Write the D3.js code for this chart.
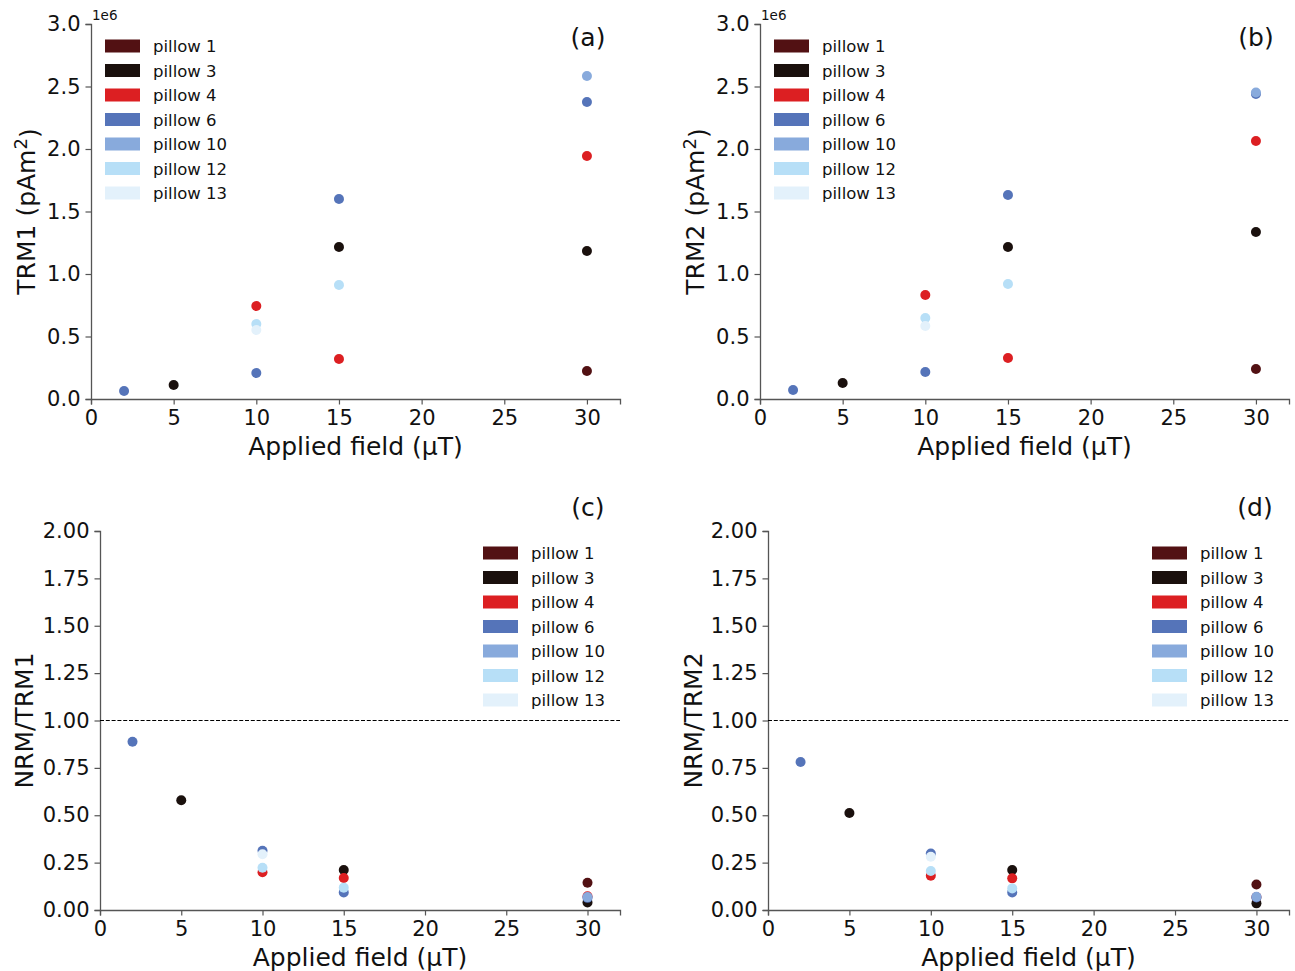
<!DOCTYPE html>
<html>
<head>
<meta charset="utf-8">
<script src="https://cdn.jsdelivr.net/npm/d3@7"></script>
<style>
  html, body { margin: 0; padding: 0; background: #fff; }
  svg { display: block; font-family: "DejaVu Sans", sans-serif; }
</style>
</head>
<body>
<svg id="chart" width="1295" height="971"></svg>
<script>
// ---------------- data ----------------
const pillows = ["pillow 1", "pillow 3", "pillow 4", "pillow 6", "pillow 10", "pillow 12", "pillow 13"];
const pillowColors = ["#521113", "#1a100d", "#dc1f22", "#5574b9", "#88aadc", "#b7dff7", "#e3f1fb"];
const xTicks = [0, 5, 10, 15, 20, 25, 30];
const trmTicks = [0, 0.5, 1.0, 1.5, 2.0, 2.5, 3.0];
const ratioTicks = [0, 0.25, 0.5, 0.75, 1.0, 1.25, 1.5, 1.75, 2.0];

// [applied field (µT), value] per pillow, same order as `pillows`
// TRM1 in units of 1e6 pAm^2
const trm1 = [
  [[30, 0.224]],
  [[5, 0.112], [15, 1.216], [30, 1.184]],
  [[10, 0.744], [15, 0.320], [30, 1.944]],
  [[2, 0.064], [10, 0.208], [15, 1.600], [30, 2.376]],
  [[30, 2.584]],
  [[10, 0.600], [15, 0.912]],
  [[10, 0.552]]
];
// TRM2 in units of 1e6 pAm^2
const trm2 = [
  [[30, 0.240]],
  [[5, 0.128], [15, 1.216], [30, 1.336]],
  [[10, 0.832], [15, 0.328], [30, 2.064]],
  [[2, 0.072], [10, 0.216], [15, 1.632], [30, 2.440]],
  [[30, 2.452]],
  [[10, 0.648], [15, 0.920]],
  [[10, 0.584]]
];
// NRM/TRM1
const ratio1 = [
  [[30, 0.144]],
  [[5, 0.579], [15, 0.211], [30, 0.040]],
  [[10, 0.199], [15, 0.169], [30, 0.072]],
  [[2, 0.888], [10, 0.313], [15, 0.093], [30, 0.064]],
  [[30, 0.068]],
  [[10, 0.223], [15, 0.118]],
  [[10, 0.294]]
];
// NRM/TRM2
const ratio2 = [
  [[30, 0.135]],
  [[5, 0.512], [15, 0.211], [30, 0.035]],
  [[10, 0.181], [15, 0.167], [30, 0.068]],
  [[2, 0.781], [10, 0.298], [15, 0.093], [30, 0.066]],
  [[30, 0.070]],
  [[10, 0.206], [15, 0.114]],
  [[10, 0.281]]
];

// ---------------- drawing ----------------
const svg = d3.select("#chart");
const SPINE = "#555555";

function drawPanel(cfg) {
  const x = d3.scaleLinear().domain([0, 32]).range([cfg.left, cfg.right]);
  const y = d3.scaleLinear().domain(cfg.yDomain).range([cfg.bottom, cfg.top]);
  const g = svg.append("g");

  // axes
  const xAxis = d3.axisBottom(x).tickValues(xTicks).tickSize(5.5).tickPadding(4).tickFormat(d3.format("d"));
  const yAxis = d3.axisLeft(y).tickValues(cfg.yTicks).tickSize(5.5).tickPadding(5).tickFormat(d3.format(cfg.fmt));
  const gx = g.append("g").attr("transform", `translate(0,${cfg.bottom})`).call(xAxis);
  const gy = g.append("g").attr("transform", `translate(${cfg.left},0)`).call(yAxis);
  [gx, gy].forEach(a => {
    a.select(".domain").attr("stroke", SPINE).attr("stroke-width", 1.3);
    a.selectAll(".tick line").attr("stroke", SPINE).attr("stroke-width", 1.2);
    a.selectAll(".tick text").attr("fill", "#111").style("font-size", "21px")
      .style("font-family", "'DejaVu Sans', sans-serif");
  });
  gx.selectAll(".tick text").attr("dy", "0.71em").attr("y", 11);

  // reference line
  if (cfg.refLine !== undefined) {
    g.append("line")
      .attr("x1", x(0)).attr("x2", x(32))
      .attr("y1", y(cfg.refLine)).attr("y2", y(cfg.refLine))
      .attr("stroke", "#000").attr("stroke-width", 1.1)
      .attr("stroke-dasharray", "4,1.8");
  }

  // points (in series order, later on top)
  cfg.data.forEach((series, i) => {
    g.selectAll(null).data(series).enter().append("circle")
      .attr("cx", d => x(d[0])).attr("cy", d => y(d[1]))
      .attr("r", 5).attr("fill", pillowColors[i]);
  });

  // offset text
  if (cfg.offset) {
    g.append("text").attr("x", cfg.left + 1).attr("y", cfg.top - 4)
      .style("font-size", "13.5px").attr("fill", "#111").text(cfg.offset);
  }

  // labels
  g.append("text").attr("x", (cfg.left + cfg.right) / 2).attr("y", cfg.bottom + 56)
    .attr("text-anchor", "middle").style("font-size", "25px").attr("fill", "#111")
    .text("Applied field (μT)");

  const yl = g.append("text")
    .attr("transform", `translate(${cfg.ylabelX},${(cfg.top + cfg.bottom) / 2}) rotate(-90)`)
    .attr("text-anchor", "middle").style("font-size", "25px").attr("fill", "#111");
  yl.append("tspan").text(cfg.ylabel);
  if (cfg.ylabelSup) {
    yl.append("tspan").attr("dy", "-0.45em").style("font-size", "18px").text(cfg.ylabelSup);
    yl.append("tspan").attr("dy", "0.45em").text(")");
  }

  g.append("text").attr("x", cfg.letterX).attr("y", cfg.letterY)
    .attr("text-anchor", "middle").style("font-size", "25px").attr("fill", "#111")
    .text(cfg.letter);

  // legend
  const lg = g.append("g").attr("transform", `translate(${cfg.legendX},${cfg.legendY})`);
  pillows.forEach((p, i) => {
    lg.append("rect").attr("x", 0).attr("y", i * 24.5 - 6.5)
      .attr("width", 35).attr("height", 13).attr("fill", pillowColors[i]);
    lg.append("text").attr("x", 48).attr("y", i * 24.5 + 6)
      .style("font-size", "16.5px").attr("fill", "#111").text(p);
  });
}

drawPanel({ left: 91, right: 620, top: 24, bottom: 399, yDomain: [0, 3], yTicks: trmTicks, fmt: ".1f",
  data: trm1, offset: "1e6", ylabel: "TRM1 (pAm", ylabelSup: "2", ylabelX: 35,
  letter: "(a)", letterX: 588, letterY: 46, legendX: 105, legendY: 46 });
drawPanel({ left: 760, right: 1289, top: 24, bottom: 399, yDomain: [0, 3], yTicks: trmTicks, fmt: ".1f",
  data: trm2, offset: "1e6", ylabel: "TRM2 (pAm", ylabelSup: "2", ylabelX: 704,
  letter: "(b)", letterX: 1256, letterY: 46, legendX: 774, legendY: 46 });
drawPanel({ left: 100, right: 620, top: 531, bottom: 910, yDomain: [0, 2], yTicks: ratioTicks, fmt: ".2f",
  data: ratio1, refLine: 1, ylabel: "NRM/TRM1", ylabelX: 33,
  letter: "(c)", letterX: 588, letterY: 516, legendX: 483, legendY: 553 });
drawPanel({ left: 768, right: 1289, top: 531, bottom: 910, yDomain: [0, 2], yTicks: ratioTicks, fmt: ".2f",
  data: ratio2, refLine: 1, ylabel: "NRM/TRM2", ylabelX: 702,
  letter: "(d)", letterX: 1255, letterY: 516, legendX: 1152, legendY: 553 });
</script>
</body>
</html>
